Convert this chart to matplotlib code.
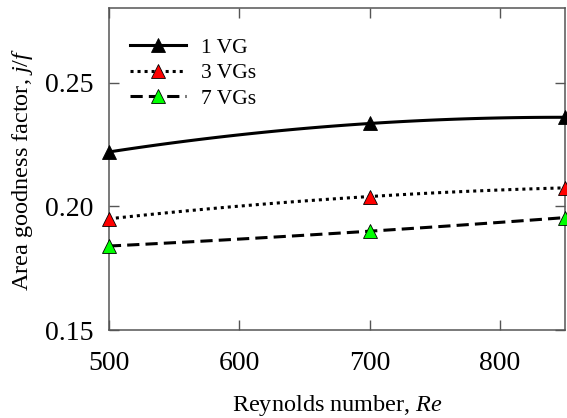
import numpy as np
import matplotlib
matplotlib.use("Agg")
import matplotlib.pyplot as plt

plt.rcParams['font.family'] = ['Liberation Serif', 'DejaVu Serif']
plt.rcParams['mathtext.fontset'] = 'custom'
plt.rcParams['mathtext.rm'] = 'Liberation Serif'
plt.rcParams['mathtext.it'] = 'Liberation Serif:italic'

# Reynolds number and area goodness factor j/f
re = [500, 700, 850]
vg1 = [0.222, 0.2335, 0.236]
vg3 = [0.195, 0.204, 0.2075]
vg7 = [0.184, 0.190, 0.1955]

labels = ["1 VG", "3 VGs", "7 VGs"]
colors = ["black", "red", "#00ff00"]
styles = ["-", (0, (1, 1.3)), (0, (4, 2))]

fig = plt.figure(figsize=(5.67, 4.18), dpi=100)
ax = fig.add_axes([0.192, 0.21, 0.805, 0.77])

xs = np.linspace(re[0], re[-1], 100)
for ys, lab, c, ls in zip([vg1, vg3, vg7], labels, colors, styles):
    # smooth curve through the three points
    p = np.polyfit(re, ys, 2)
    ax.plot(xs, np.polyval(p, xs), color="black", lw=2.2, ls=ls,
            dash_capstyle="butt", solid_capstyle="butt")
    ax.plot(re, ys, ls="none", marker="^", ms=10, mfc=c, mec="black",
            mew=0.6, clip_on=False, zorder=5)
    # legend proxy
    ax.plot([], [], color="black", lw=2.2, ls=ls, marker="^", ms=10,
            mfc=c, mec="black", mew=0.6, label=lab)

ax.set_xlim(500, 850)
ax.set_ylim(0.15, 0.28)
ax.set_xticks([500, 600, 700, 800])
ax.set_yticks([0.15, 0.20, 0.25])
ax.set_yticklabels(["0.15", "0.20", "0.25"])
ax.tick_params(direction="in", top=True, right=True, length=7, width=1,
               color="#555555", labelsize=20)
ax.tick_params(axis="y", pad=11)
ax.tick_params(axis="x", pad=15)
for s in ax.spines.values():
    s.set_color("#555555")
    s.set_linewidth(1.1)

ax.set_xlabel("Reynolds number, $\\mathit{Re}$", fontsize=17.5, labelpad=12)
ax.set_ylabel("Area goodness factor, $\\mathit{j/f}$", fontsize=17.5, labelpad=7)

ax.legend(loc="upper left", frameon=False, fontsize=15.5, handlelength=2.6,
          handletextpad=0.7, labelspacing=0.25, borderaxespad=0.6,
          bbox_to_anchor=(0.0, 0.975))

fig.savefig("out.png", dpi=100)
